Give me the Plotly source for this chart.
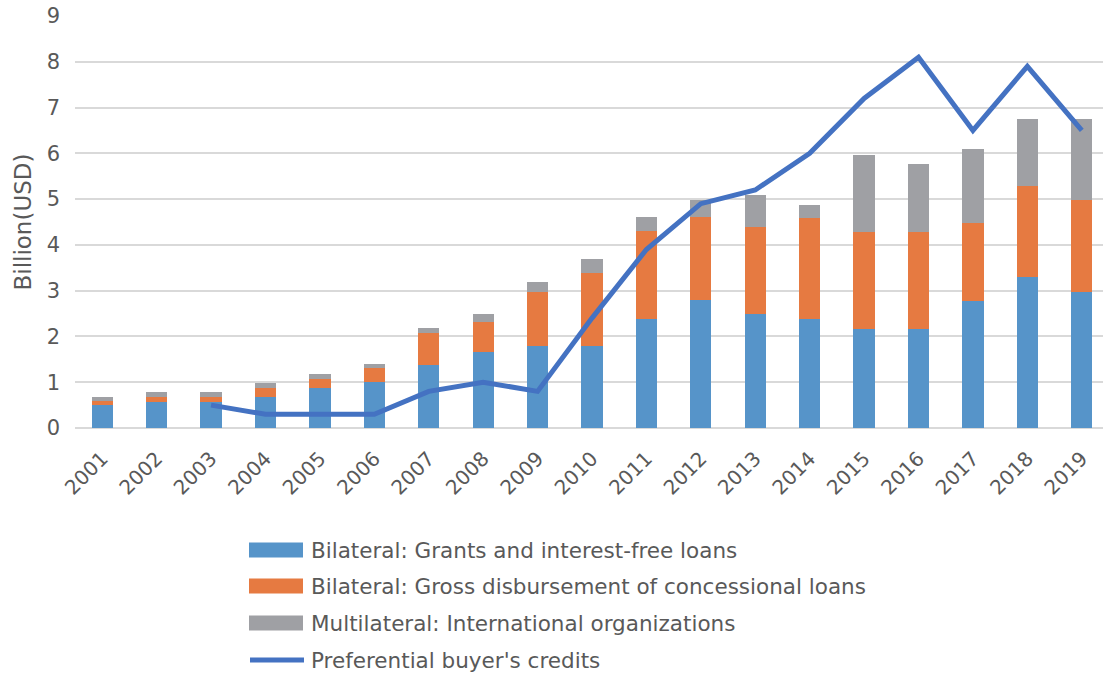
import plotly.graph_objects as go

years = [str(y) for y in range(2001, 2020)]

grants = [0.50, 0.57, 0.57, 0.67, 0.87, 1.00, 1.38, 1.66, 1.79, 1.79,
          2.39, 2.80, 2.50, 2.38, 2.17, 2.17, 2.78, 3.29, 2.97]
concessional = [0.08, 0.10, 0.10, 0.20, 0.21, 0.30, 0.69, 0.65, 1.18, 1.60,
                1.92, 1.81, 1.89, 2.21, 2.12, 2.12, 1.69, 2.00, 2.00]
multilateral = [0.09, 0.11, 0.11, 0.12, 0.09, 0.09, 0.11, 0.19, 0.21, 0.30,
                0.30, 0.37, 0.71, 0.28, 1.67, 1.47, 1.62, 1.47, 1.79]
buyer_credits = [None, None, 0.5, 0.3, 0.3, 0.3, 0.8, 1.0, 0.8, 2.4,
                 3.9, 4.9, 5.2, 6.0, 7.2, 8.1, 6.5, 7.9, 6.5]

series_names = [
    "Bilateral: Grants and interest-free loans",
    "Bilateral: Gross disbursement of concessional loans",
    "Multilateral: International organizations",
    "Preferential buyer's credits",
]
colors = ["#5694c9", "#e67a41", "#9fa0a4", "#4472c2"]

FONT = "DejaVu Sans, Verdana, sans-serif"
TEXT = "#595959"

fig = go.Figure()
for vals, name, col in zip([grants, concessional, multilateral], series_names[:3], colors[:3]):
    fig.add_trace(go.Bar(x=years, y=vals, name=name, marker=dict(color=col, line=dict(width=0)),
                         showlegend=False))
fig.add_trace(go.Scatter(x=years, y=buyer_credits, name=series_names[3], mode="lines",
                         line=dict(color=colors[3], width=5), showlegend=False))

# Plot-area geometry (pixels) used to place the hand-built legend
W, H = 1103, 677
ML, MR, MT, MB = 75, 0, 16, 249
pw, ph = W - ML - MR, H - MT - MB

def px_x(x):
    return (x - ML) / pw

def px_y(y):
    return (H - MB - y) / ph

shapes = []
annotations = []
rows = [550, 586, 623, 660]
for i, (name, col) in enumerate(zip(series_names, colors)):
    cy = rows[i]
    if i < 3:
        shapes.append(dict(type="rect", xref="paper", yref="paper",
                           x0=px_x(249), x1=px_x(303), y0=px_y(cy + 7.5), y1=px_y(cy - 7.5),
                           fillcolor=col, line=dict(width=0)))
    else:
        shapes.append(dict(type="line", xref="paper", yref="paper",
                           x0=px_x(250), x1=px_x(304), y0=px_y(cy), y1=px_y(cy),
                           line=dict(color=col, width=5)))
    annotations.append(dict(xref="paper", yref="paper", x=px_x(309), y=px_y(cy),
                            text=name, showarrow=False, xanchor="left", yanchor="middle",
                            font=dict(family=FONT, size=21.5, color=TEXT)))

fig.update_layout(
    barmode="stack",
    bargap=0.61,
    width=W, height=H,
    margin=dict(l=ML, r=MR, t=MT, b=MB, pad=0),
    paper_bgcolor="white",
    plot_bgcolor="white",
    font=dict(family=FONT, color=TEXT),
    shapes=shapes,
    annotations=annotations,
    xaxis=dict(
        type="category",
        range=[-0.5, 18.39],
        tickangle=-45,
        tickfont=dict(size=20, color=TEXT),
        showgrid=False,
        showline=False,
        ticks="",
        ticklabelstandoff=14,
    ),
    yaxis=dict(
        range=[0, 9],
        dtick=1,
        tickfont=dict(size=21, color=TEXT),
        gridcolor="#d9d9d9",
        gridwidth=2,
        zeroline=True,
        zerolinecolor="#d9d9d9",
        zerolinewidth=2,
        showline=False,
        ticks="",
        ticklabelstandoff=14,
        title=dict(text="Billion(USD)", font=dict(size=23, color=TEXT), standoff=8),
    ),
)

fig.write_html("out.html")
